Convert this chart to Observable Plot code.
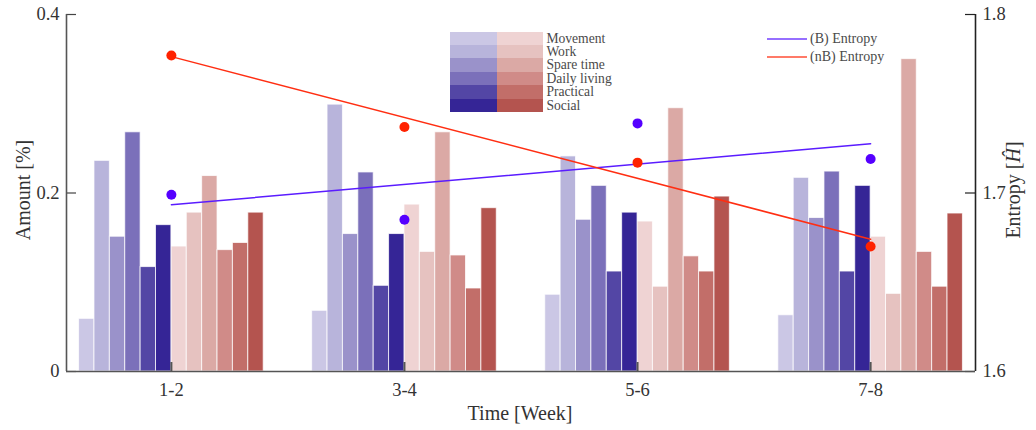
<!DOCTYPE html>
<html><head><meta charset="utf-8">
<script src="https://cdn.jsdelivr.net/npm/d3@7"></script>
<script src="https://cdn.jsdelivr.net/npm/@observablehq/plot@0.6"></script>
<style>
body{margin:0;background:#fff;font-family:"Liberation Serif","DejaVu Serif",serif;}
#wrap{position:relative;width:1036px;height:430px;overflow:hidden;}
#wrap svg text{font-family:"Liberation Serif",serif !important;font-size:18.5px !important;fill:#333;}
.lbl{position:absolute;font-family:"Liberation Serif",serif;font-size:20px;color:#333;white-space:nowrap;}
.rot{transform:translate(-50%,-50%) rotate(-90deg);}
#leg1{position:absolute;left:450px;top:31.5px;}
#leg1 .row{display:flex;height:13.45px;align-items:center;}
#leg1 .sw{width:46.7px;height:13.45px;}
#leg1 .tx{margin-left:3px;font-family:"Liberation Serif",serif;font-size:13.6px;color:#4a4a4a;line-height:13.45px;}
#leg2{position:absolute;left:767px;top:30.5px;}
#leg2 .row{display:flex;height:17.6px;align-items:center;}
#leg2 .tx{margin-left:3px;font-family:"Liberation Serif",serif;font-size:14px;color:#4a4a4a;}
</style></head><body><div id="wrap"></div>
<script>
// ---- data ----
const weeks = ["1-2", "3-4", "5-6", "7-8"];
const activities = ["Movement", "Work", "Spare time", "Daily living", "Practical", "Social"];
const amountB = [
  [0.059, 0.236, 0.151, 0.268, 0.117, 0.164],
  [0.068, 0.299, 0.154, 0.223, 0.096, 0.154],
  [0.086, 0.241, 0.170, 0.208, 0.112, 0.178],
  [0.063, 0.217, 0.172, 0.224, 0.112, 0.208]
];
const amountNB = [
  [0.140, 0.178, 0.219, 0.136, 0.144, 0.178],
  [0.187, 0.134, 0.268, 0.130, 0.093, 0.183],
  [0.168, 0.095, 0.295, 0.129, 0.112, 0.196],
  [0.151, 0.087, 0.350, 0.134, 0.095, 0.177]
];
const entropyB = [1.699, 1.685, 1.739, 1.719];
const entropyNB = [1.777, 1.737, 1.717, 1.670];
const amountTicks = [0, 0.2, 0.4];
const entropyTicks = [1.6, 1.7, 1.8];
const colorsB = ["#cbc7e5", "#b8b4db", "#9a92ca", "#7b70ba", "#5346a5", "#352596"];
const colorsNB = ["#efd3d3", "#e6c2c0", "#dba9a5", "#d08b88", "#c26e69", "#b4544f"];
const seriesNames = ["(B) Entropy", "(nB) Entropy"];
const lineColors = ["#5a1cff", "#ff2e12"];
const dotColors = ["#5500ff", "#ff2200"];

// ---- layout ----
const W = 1036, H = 430, mL = 66, mR = 61, mT = 14, mB = 59;
const pw = W - mL - mR, ph = H - mT - mB;
const xDomain = [0.55, 4.45];
const bw = 0.066;
const xTicks = weeks.map((w, i) => i + 1);
const toAmount = h => (h - entropyTicks[0]) / (entropyTicks[2] - entropyTicks[0]) * amountTicks[2];

const bars = [];
weeks.forEach((w, i) => activities.forEach((a, j) => {
  bars.push({week: i + 1, k: j, value: amountB[i][j], color: colorsB[j]});
  bars.push({week: i + 1, k: 6 + j, value: amountNB[i][j], color: colorsNB[j]});
}));
const pts = weeks.map((w, i) => ({week: i + 1, b: entropyB[i], nb: entropyNB[i]}));

const chart = Plot.plot({
  width: W, height: H, marginLeft: mL, marginRight: mR, marginTop: mT, marginBottom: mB,
  x: {domain: xDomain},
  y: {domain: [amountTicks[0], amountTicks[2]]},
  color: {type: "identity"},
  style: {fontFamily: "Liberation Serif, DejaVu Serif, serif", fontSize: "18.5px", color: "#333", background: "white"},
  marks: [
    Plot.rectY(bars, {x1: d => d.week + (d.k - 6) * bw, x2: d => d.week + (d.k - 5) * bw, y1: 0, y2: "value",
      fill: "color", stroke: "white", strokeWidth: 1, strokeOpacity: 0.75}),
    Plot.tickX(xTicks, {x: d => d, insetTop: ph - 9, stroke: "#555", strokeWidth: 2}),
    Plot.tickY(amountTicks, {y: d => d, insetRight: pw - 10, stroke: "#444", strokeWidth: 1.2}),
    Plot.tickY(entropyTicks, {y: d => toAmount(d), insetLeft: pw - 10, stroke: "#222", strokeWidth: 1.2}),
    Plot.linearRegressionY(pts, {x: "week", y: d => toAmount(d.b), stroke: lineColors[0], strokeWidth: 1.5, ci: 0}),
    Plot.linearRegressionY(pts, {x: "week", y: d => toAmount(d.nb), stroke: lineColors[1], strokeWidth: 1.5, ci: 0}),
    Plot.dot(pts, {x: "week", y: d => toAmount(d.b), r: 5, fill: dotColors[0]}),
    Plot.dot(pts, {x: "week", y: d => toAmount(d.nb), r: 5, fill: dotColors[1]}),
    Plot.ruleY([amountTicks[0]], {stroke: "#555", strokeWidth: 1.6}),
    Plot.ruleX([xDomain[0]], {stroke: "#555", strokeWidth: 1.6}),
    Plot.ruleX([xDomain[1]], {stroke: "#222", strokeWidth: 1.6}),
    Plot.axisX(xTicks, {tickFormat: (d, i) => weeks[i], tickSize: 0, tickPadding: 11, label: null, fontSize: 18.5}),
    Plot.axisY(amountTicks, {tickFormat: d => d === 0 ? "0" : d.toFixed(1), tickSize: 0, tickPadding: 7, label: null, fontSize: 18.5}),
    Plot.axisY(entropyTicks.map(toAmount), {anchor: "right", tickFormat: (d, i) => entropyTicks[i].toFixed(1), tickSize: 0, tickPadding: 7, label: null, fontSize: 18.5})
  ]
});
const wrap = document.getElementById("wrap");
wrap.appendChild(chart);

// axis labels
function addLabel(html, x, y, rot) {
  const d = document.createElement("div");
  d.className = "lbl" + (rot ? " rot" : "");
  d.innerHTML = html;
  d.style.left = x + "px"; d.style.top = y + "px";
  if (!rot) d.style.transform = "translate(-50%,-50%)";
  wrap.appendChild(d);
}
addLabel("Amount [%]", 23, 190, true);
addLabel("Entropy [<i>Ĥ</i>]", 1013, 190, true);
addLabel("Time [Week]", 520, 413, false);

// category legend
const leg1 = document.createElement("div"); leg1.id = "leg1";
activities.forEach((a, j) => {
  const r = document.createElement("div"); r.className = "row";
  r.innerHTML = `<div class="sw" style="background:${colorsB[j]}"></div><div class="sw" style="background:${colorsNB[j]}"></div><div class="tx">${a}</div>`;
  leg1.appendChild(r);
});
wrap.appendChild(leg1);

// entropy legend
const leg2 = document.createElement("div"); leg2.id = "leg2";
seriesNames.forEach((s, i) => {
  const r = document.createElement("div"); r.className = "row";
  r.innerHTML = `<svg width="40" height="6"><line x1="0" y1="3" x2="40" y2="3" stroke="${lineColors[i]}" stroke-opacity="0.85" stroke-width="1.6"/></svg><div class="tx">${s}</div>`;
  leg2.appendChild(r);
});
wrap.appendChild(leg2);
</script></body></html>
